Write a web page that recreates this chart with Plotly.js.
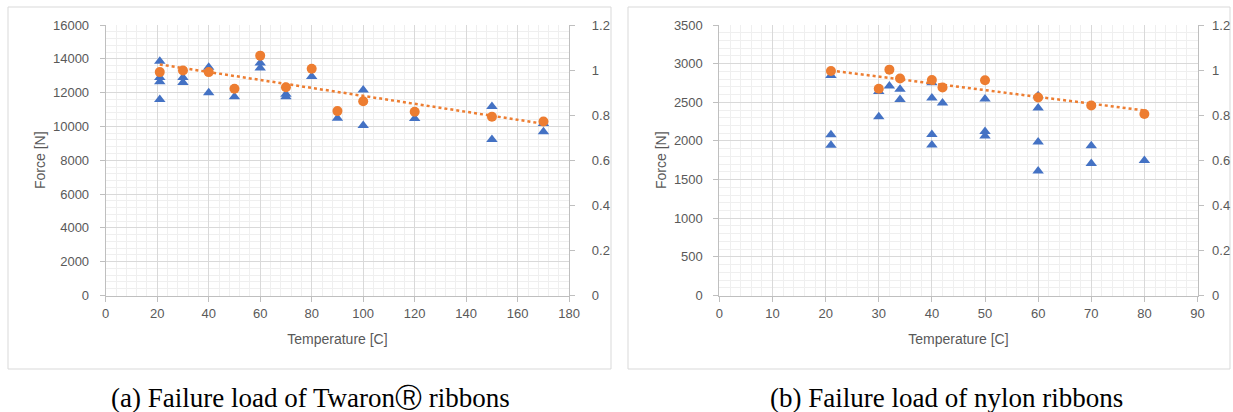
<!DOCTYPE html>
<html>
<head>
<meta charset="utf-8">
<script src="https://cdn.plot.ly/plotly-3.0.1.min.js"></script>
<style>
html,body{margin:0;padding:0;background:#fff;}
#chart{width:1233px;height:412px;}
</style>
</head>
<body>
<div id="chart"></div>
<script>
// ---- Twaron ribbons (a) ----
const twaronTemp = [21, 21, 21, 21, 30, 30, 40, 40, 50, 60, 60, 70, 70, 80, 90, 100, 100, 120, 150, 150, 170, 170];
const twaronForce = [13850, 12900, 12650, 11600, 12900, 12600, 13500, 12000, 11750, 13750, 13450, 11900, 11750, 12950, 10480, 12150, 10050, 10470, 11180, 9230, 10180, 9680];
const twaronMeanTemp = [21, 30, 40, 50, 60, 70, 80, 90, 100, 120, 150, 170];
const twaronMeanNorm = [0.991, 0.998, 0.991, 0.917, 1.064, 0.924, 1.006, 0.818, 0.862, 0.815, 0.793, 0.772];
const twaronTrendTemp = [21, 170];
const twaronTrendNorm = [1.025, 0.762];

// ---- Nylon ribbons (b) ----
const nylonTemp = [21, 21, 21, 30, 30, 32, 34, 34, 40, 40, 40, 40, 42, 50, 50, 50, 60, 60, 60, 60, 70, 70, 80];
const nylonForce = [2845, 2080, 1945, 2640, 2312, 2710, 2670, 2537, 2753, 2555, 2083, 1948, 2490, 2541, 2122, 2065, 2585, 2425, 1985, 1612, 1937, 1707, 1746];
const nylonMeanTemp = [21, 30, 32, 34, 40, 42, 50, 60, 70, 80];
const nylonMeanNorm = [0.996, 0.917, 1.002, 0.963, 0.956, 0.923, 0.955, 0.878, 0.843, 0.805];
const nylonTrendTemp = [21, 80];
const nylonTrendNorm = [0.998, 0.821];

// ---- Text ----
const xTitle = 'Temperature [C]';
const yTitle = 'Force [N]';
const captionA = '(a) Failure load of Twaron\u24C7 ribbons';
const captionB = '(b) Failure load of nylon ribbons';

const BLUE = '#4472C4';
const ORANGE = '#ED7D31';
const W = 1233, H = 412;

const traces = [
  {x: twaronTemp, y: twaronForce, xaxis: 'x', yaxis: 'y', type: 'scatter', mode: 'markers',
   marker: {symbol: 'triangle-up', size: 10, color: BLUE}},
  {x: twaronTrendTemp, y: twaronTrendNorm, xaxis: 'x', yaxis: 'y3', type: 'scatter', mode: 'lines',
   line: {color: ORANGE, width: 2.5, dash: 'dot'}},
  {x: twaronMeanTemp, y: twaronMeanNorm, xaxis: 'x', yaxis: 'y3', type: 'scatter', mode: 'markers',
   marker: {symbol: 'circle', size: 10, color: ORANGE}},
  {x: nylonTemp, y: nylonForce, xaxis: 'x2', yaxis: 'y2', type: 'scatter', mode: 'markers',
   marker: {symbol: 'triangle-up', size: 10, color: BLUE}},
  {x: nylonTrendTemp, y: nylonTrendNorm, xaxis: 'x2', yaxis: 'y4', type: 'scatter', mode: 'lines',
   line: {color: ORANGE, width: 2.5, dash: 'dot'}},
  {x: nylonMeanTemp, y: nylonMeanNorm, xaxis: 'x2', yaxis: 'y4', type: 'scatter', mode: 'markers',
   marker: {symbol: 'circle', size: 10, color: ORANGE}}
];

const tickFont = {family: 'Liberation Sans, Arial, sans-serif', size: 13, color: '#595959'};
const titleFont = {family: 'Liberation Sans, Arial, sans-serif', size: 14, color: '#595959'};
const common = {
  showline: true, linecolor: '#bfbfbf', linewidth: 1,
  ticks: 'outside', ticklen: 5, tickcolor: '#bfbfbf', tickwidth: 1,
  zeroline: false, showgrid: true, gridcolor: '#d9d9d9', gridwidth: 1,
  tickfont: tickFont, exponentformat: 'none', fixedrange: true
};
const yDom = [1 - 295.5 / H, 1 - 25 / H];

const layout = {
  width: W, height: H,
  margin: {l: 0, r: 0, t: 0, b: 0},
  paper_bgcolor: '#ffffff', plot_bgcolor: '#ffffff',
  showlegend: false,
  separators: '.',
  font: tickFont,
  xaxis: Object.assign({}, common, {
    domain: [105.7 / W, 569.2 / W], range: [0, 180], dtick: 20, tick0: 0, anchor: 'y',
    minor: {dtick: 4, showgrid: true, gridcolor: '#efefef', ticks: ''},
    ticklabelstandoff: 1,
    title: {text: xTitle, font: titleFont, standoff: 14}
  }),
  yaxis: Object.assign({}, common, {
    domain: yDom, range: [0, 16000], dtick: 2000, tick0: 0, anchor: 'x', tickformat: 'd',
    minor: {dtick: 400, showgrid: true, gridcolor: '#efefef', ticks: ''},
    ticklabelstandoff: 8,
    title: {text: yTitle, font: titleFont, standoff: 4}
  }),
  yaxis3: Object.assign({}, common, {
    overlaying: 'y', side: 'right', anchor: 'x', range: [0, 1.2], dtick: 0.2, tick0: 0,
    showgrid: false, ticklabelstandoff: 14
  }),
  xaxis2: Object.assign({}, common, {
    domain: [719.4 / W, 1197.5 / W], range: [0, 90], dtick: 10, tick0: 0, anchor: 'y2',
    minor: {dtick: 2, showgrid: true, gridcolor: '#efefef', ticks: ''},
    ticklabelstandoff: 1,
    title: {text: xTitle, font: titleFont, standoff: 14}
  }),
  yaxis2: Object.assign({}, common, {
    domain: yDom, range: [0, 3500], dtick: 500, tick0: 0, anchor: 'x2', tickformat: 'd',
    minor: {dtick: 100, showgrid: true, gridcolor: '#efefef', ticks: ''},
    ticklabelstandoff: 8,
    title: {text: yTitle, font: titleFont, standoff: 3}
  }),
  yaxis4: Object.assign({}, common, {
    overlaying: 'y2', side: 'right', anchor: 'x2', range: [0, 1.2], dtick: 0.2, tick0: 0,
    showgrid: false, ticklabelstandoff: 6
  }),
  shapes: [
    {type: 'rect', xref: 'paper', yref: 'paper', x0: 8 / W, x1: 611 / W, y0: 1 - 369 / H, y1: 1 - 7 / H,
     line: {color: '#d9d9d9', width: 1}, fillcolor: 'rgba(0,0,0,0)', layer: 'below'},
    {type: 'rect', xref: 'paper', yref: 'paper', x0: 628 / W, x1: 1230 / W, y0: 1 - 369 / H, y1: 1 - 7 / H,
     line: {color: '#d9d9d9', width: 1}, fillcolor: 'rgba(0,0,0,0)', layer: 'below'}
  ],
  annotations: [
    {text: captionA, xref: 'paper', yref: 'paper', x: 310 / W, y: 1 - 398 / H, xanchor: 'center', yanchor: 'middle',
     showarrow: false, font: {family: 'Liberation Serif, Times New Roman, serif', size: 27, color: '#000000'}},
    {text: captionB, xref: 'paper', yref: 'paper', x: 946 / W, y: 1 - 398 / H, xanchor: 'center', yanchor: 'middle',
     showarrow: false, font: {family: 'Liberation Serif, Times New Roman, serif', size: 27, color: '#000000'}}
  ]
};

Plotly.newPlot('chart', traces, layout, {displayModeBar: false, staticPlot: true});
</script>
</body>
</html>
